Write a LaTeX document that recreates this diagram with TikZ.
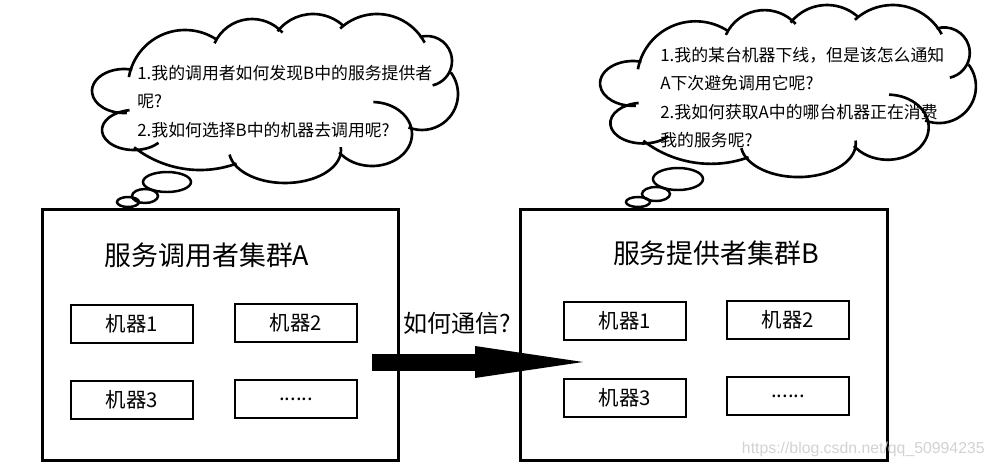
\documentclass[tikz,border=0pt]{standalone}
\usepackage{fontspec}
\newfontfamily\cjk{Noto Sans CJK SC}
\newfontfamily\wmfont{Liberation Sans}
\usetikzlibrary{arrows.meta}

% puffs of a thought cloud: centre / x radius / y radius / start / end
\newcommand{\cloudpuffs}{%
    \foreach \cx/\cy/\rx/\ry/\sa/\ea in {95/74/57/57/-170/-57, 162/47/41/41/-156/-42,
        223/46/45/45/-142/-47, 287/55/54/54/-133/-28, 337/48/25/25/-107/77,
        332/81/36/36/-37/112, 282/121/40/32/-88/145, 195/137/56/33/-5/172,
        110/50/107/107/70/128, 44/117/32/20/40/262, 34/78/32/22/85/285}
        \draw[puff] (\cx,\cy) ++({\rx*cos(\sa)},{\ry*sin(\sa)}) arc[start angle=\sa, end angle=\ea, x radius=\rx, y radius=\ry];}

\begin{document}
\begin{tikzpicture}[x=0.02cm, y=-0.02cm, font=\cjk,
    cluster/.style={draw, line width=1.7pt, minimum width=7.14cm, minimum height=5.04cm},
    machine/.style={draw, line width=1.2pt, minimum width=2.44cm, minimum height=0.77cm,
        font=\cjk\fontsize{11.6}{12}\selectfont},
    title/.style={font=\cjk\fontsize{15.3}{16}\selectfont},
    puff/.style={line width=1.5pt},
    question/.style={anchor=north west, align=left, inner sep=0pt,
        font=\cjk\fontsize{9.6}{16.1}\selectfont},
    bubble/.style={line width=1.4pt}]
    \useasboundingbox (0,0) rectangle (995,467);

    % Cluster A
    \node[cluster] (clA) at (220.5,335) {};
    \node[title] (tA) at (207,255) {服务调用者集群A};
    \node[machine] (a1) at (132,324) {机器1};
    \node[machine] (a2) at (296,323) {机器2};
    \node[machine] (a3) at (132,400) {机器3};
    \node[machine] (a4) at (296,399) {......};

    % Cluster B
    \node[cluster, minimum width=7.36cm] (clB) at (704,335) {};
    \node[title] (tB) at (716,253) {服务提供者集群B};
    \node[machine] (b1) at (625,321) {机器1};
    \node[machine] (b2) at (788,320) {机器2};
    \node[machine] (b3) at (625,398) {机器3};
    \node[machine] (b4) at (788,396) {......};

    % Communication arrow
    \coordinate (arrS) at (372,362);
    \coordinate (arrE) at (583,362);
    \draw[line width=0.34cm, -{Triangle[length=2.16cm, width=0.64cm, line width=0pt]}] (arrS) -- (arrE);
    \node[font=\cjk\fontsize{13.7}{14}\selectfont] (comm) at (457,323) {如何通信?};

    % Thought of A
    \begin{scope}[shift={(90,13)}]
        \cloudpuffs
    \end{scope}
    \node[question] (qA) at (137,65) {1.我的调用者如何发现B中的服务提供者\\呢?\\2.我如何选择B中的机器去调用呢?};
    \draw[bubble] (167,182) ellipse [x radius=24, y radius=10];
    \draw[bubble] (145,196) ellipse [x radius=13, y radius=7];
    \draw[bubble] (128,202) ellipse [x radius=11, y radius=5];

    % Thought of B
    \begin{scope}[shift={(598,4)}, xscale=1.027, yscale=1.018]
        \cloudpuffs
    \end{scope}
    \node[question] (qB) at (660,47) {1.我的某台机器下线，但是该怎么通知\\A下次避免调用它呢?\\2.我如何获取A中的哪台机器正在消费\\我的服务呢?};
    \draw[bubble] (678,179) ellipse [x radius=25, y radius=11];
    \draw[bubble] (656,194) ellipse [x radius=14, y radius=7];
    \draw[bubble] (638,202) ellipse [x radius=12, y radius=5];

    % Watermark
    \node[font=\wmfont\fontsize{9}{10}\selectfont, text=gray!35, anchor=east, inner sep=0pt] (wm) at (985,449) {https://blog.csdn.net/qq\_50994235};
\end{tikzpicture}
\end{document}
